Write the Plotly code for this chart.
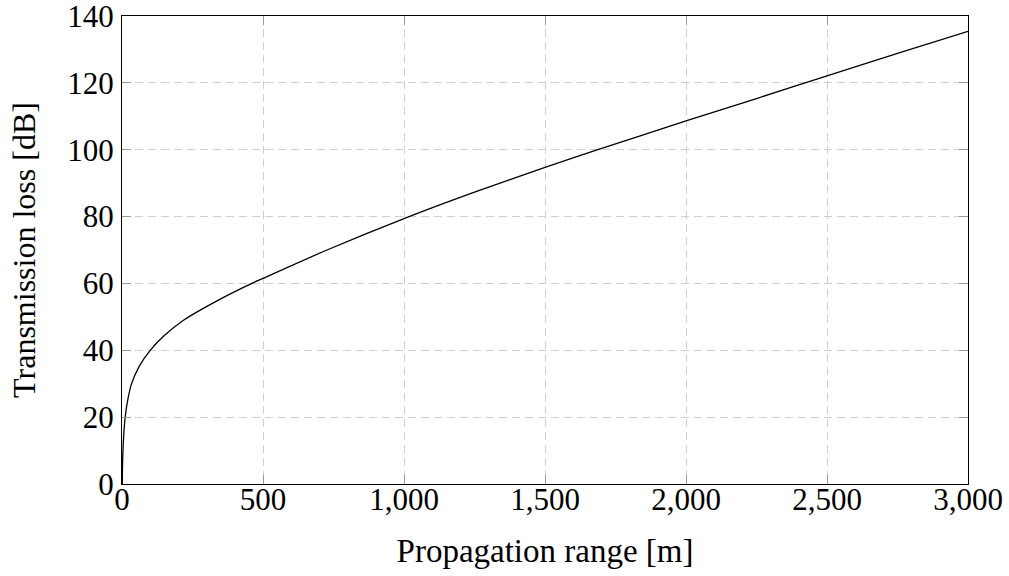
import plotly.graph_objects as go

# Transmission loss versus propagation range
range_m = [1, 2, 4, 6, 9, 12, 19, 33, 61, 100, 150, 218, 337, 455, 500,
           727, 1000, 1250, 1500, 1690, 2000, 2250, 2500, 2750, 3000]
loss_db = [0, 6, 11, 14.5, 18, 20.5, 24.5, 29.8, 35.2, 40, 44.4, 49, 54.8, 59.8, 61.5,
           70, 79.4, 87.3, 94.7, 100.1, 108.6, 115.3, 122.1, 128.8, 135.4]

x_ticks = [0, 500, 1000, 1500, 2000, 2500, 3000]
y_ticks = [0, 20, 40, 60, 80, 100, 120, 140]

serif = "Liberation Serif"

fig = go.Figure()
fig.add_trace(go.Scatter(
    x=range_m, y=loss_db, mode="lines",
    line=dict(color="black", width=1.3, shape="spline", smoothing=0.8),
    showlegend=False, hoverinfo="skip",
))

axis_common = dict(
    showline=True, linecolor="black", linewidth=1, mirror="ticks",
    ticks="inside", ticklen=9, tickcolor="#999999", tickwidth=1,
    showgrid=True, gridcolor="#cfcfcf", gridwidth=1, griddash="8px,5px",
    zeroline=False, ticklabeloverflow="allow", automargin=False,
    tickfont=dict(family=serif, size=31, color="black"),
)

fig.update_xaxes(
    range=[0, 3000], tickvals=x_ticks, tickformat=",",
    ticklabelstandoff=-12,
    title=dict(text="Propagation range [m]", font=dict(family=serif, size=33, color="black"),
               standoff=22),
    **axis_common,
)
fig.update_yaxes(
    range=[0, 140], tickvals=y_ticks,
    ticklabelstandoff=1,
    title=dict(text="Transmission loss [dB]", font=dict(family=serif, size=32, color="black"),
               standoff=22),
    **axis_common,
)

fig.update_layout(
    width=1009, height=576,
    margin=dict(l=122, r=41, t=16, b=92),
    paper_bgcolor="white", plot_bgcolor="white",
    font=dict(family=serif, color="black"),
)

fig.write_html("out.html")
